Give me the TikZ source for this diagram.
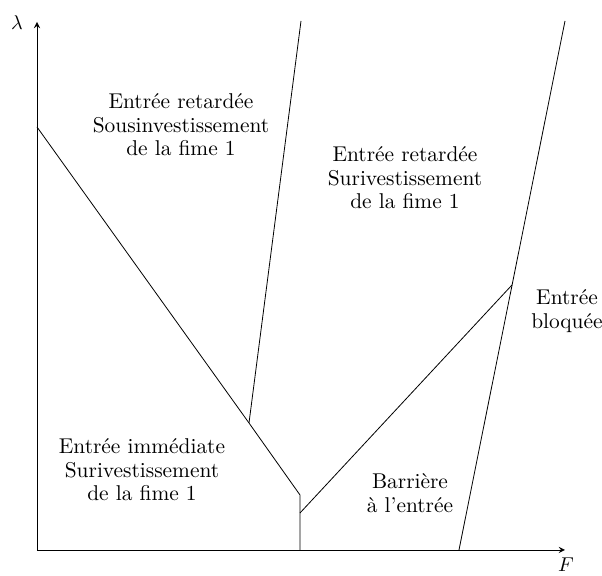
\documentclass[tikz,border=0pt]{standalone}
\usepackage{amsmath}
\usepackage{tikz}

\begin{document}
\begin{tikzpicture}[x=0.5pt, y=0.5pt,
  axe/.style={->, >=stealth},
  frontiere/.style={line join=miter},
  zone/.style={align=center, inner sep=0pt, font=\fontsize{10.7}{11.8}\selectfont}]
\useasboundingbox (-37,-26) rectangle (565,550);
% axes
\coordinate (O) at (0,0);
\coordinate (ytop) at (0,528);
\coordinate (xend) at (528,0);
\draw[axe] (O) -- (ytop);
\draw[axe] (O) -- (xend);
\node (lambda) at (-20,527) {$\lambda$};
\node (F) at (529,-15) {$F$};
% frontieres
\coordinate (a) at (0,423);
\coordinate (b) at (212,127);
\coordinate (c) at (263,55);
\coordinate (d) at (263,0);
\coordinate (e) at (263,37);
\coordinate (g) at (475,265);
\coordinate (h) at (264,529);
\coordinate (i) at (422,0);
\coordinate (j) at (528,529);
\draw[frontiere] (a) -- (b) -- (c) -- (d);
\draw (b) -- (h);
\draw (e) -- (g);
\draw (i) -- (j);
% zones
\node[zone] (sous) at (144,425) {Entrée retardée\\ Sousinvestissement\\ de la fime 1};
\node[zone] (suri) at (368,372) {Entrée retardée\\ Surivestissement\\ de la fime 1};
\node[zone] (bloq) at (530,239) {Entrée\\ bloquée};
\node[zone] (imm) at (105,80) {Entrée immédiate\\ Surivestissement\\ de la fime 1};
\node[zone] (barr) at (373,57) {Barrière\\ à l'entrée};
\end{tikzpicture}
\end{document}
